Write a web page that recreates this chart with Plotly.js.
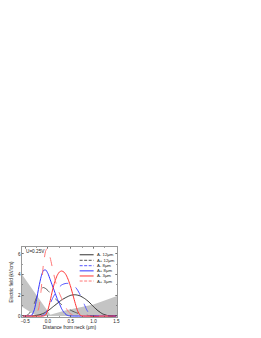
<!DOCTYPE html>
<html><head><meta charset="utf-8">
<script src="https://cdn.plot.ly/plotly-3.0.1.min.js"></script>
<style>html,body{margin:0;padding:0;background:#fff;}#c{width:261px;height:338px;}</style>
</head><body><div id="c"></div>
<script>
// series names (legend order)
const seriesNames = ["A- 12μm","A+ 12μm","A- 8μm","A+ 8μm","A- 3μm","A+ 3μm"];

// A- 12um (black solid)
const xA12m = [-0.55,-0.35,-0.3,-0.2,-0.1,0,0.1,0.2,0.3,0.4,0.5,0.6,0.7,0.8,0.9,1.0,1.1,1.2,1.3,1.4,1.5];
const yA12m = [0,0,0.03,0.1,0.25,0.5,0.85,1.2,1.55,1.8,2.0,2.05,1.95,1.7,1.35,0.9,0.5,0.2,0.05,0,0];
// A+ 12um (black dashed)
const xA12p = [-0.55,-0.5,-0.45,-0.4,-0.35,-0.3,-0.25,-0.2,-0.15,-0.1,-0.05,0,0.05,0.1,0.15,0.2,0.25,0.3,0.4,0.5,0.6,0.7,0.8,0.9,1.0,1.5];
const yA12p = [0,0,0.1,0.3,0.7,1.2,1.8,2.3,2.65,2.75,2.65,2.45,2.2,1.95,1.7,1.5,1.3,1.1,0.8,0.55,0.35,0.2,0.1,0.04,0,0];
// A- 8um (blue dashed)
const xA8m = [-0.55,-0.15,-0.1,-0.05,0,0.05,0.1,0.15,0.2,0.25,0.3,0.35,0.4,0.45,0.5,0.55,0.6,0.65,0.7,0.75,0.8,0.85,0.9,0.95,1.0,1.5];
const yA8m = [0,0,0.1,0.3,0.7,1.2,1.7,2.1,2.5,2.8,3.0,3.1,3.15,3.15,3.1,3.0,2.8,2.5,2.1,1.6,1.1,0.6,0.25,0.05,0,0];
// A+ 8um (blue solid)
const xA8p = [-0.55,-0.4,-0.35,-0.3,-0.25,-0.2,-0.15,-0.1,-0.05,0,0.05,0.1,0.15,0.2,0.25,0.3,0.35,0.4,0.45,0.5,1.5];
const yA8p = [0,0,0.1,0.6,1.6,2.8,3.8,4.4,4.45,4.1,3.5,2.9,2.3,1.7,1.2,0.7,0.35,0.12,0.03,0,0];
// A- 3um (red solid)
const xA3m = [-0.55,-0.1,-0.05,0,0.05,0.1,0.15,0.2,0.25,0.3,0.35,0.4,0.45,0.5,0.55,0.6,0.65,0.7,0.75,1.5];
const yA3m = [0,0,0.1,0.6,1.5,2.5,3.3,3.9,4.25,4.35,4.25,3.95,3.45,2.8,2.0,1.2,0.5,0.1,0,0];
// A+ 3um (red dashed)
const xA3p = [-0.55,-0.3,-0.25,-0.2,-0.15,-0.1,-0.05,-0.025,0,0.05,0.1,0.15,0.2,0.25,0.3,0.35,0.4,0.45,0.5,0.55,0.6,0.7,1.5];
const yA3p = [0,0,0.2,0.8,2.5,5.0,6.3,6.5,6.35,5.6,4.6,3.6,2.8,2.2,1.7,1.2,0.75,0.4,0.2,0.08,0.03,0,0];

// grey background profile
const xGreyL = [-0.57,0.07,-0.25,-0.57];
const yGreyL = [4.0,0,0,0.9];
const xGreyR = [-0.05,0.4,1.0,1.52,1.52];
const yGreyR = [0,0.55,1.1,1.95,0];

const xTicks = [-0.5,0,0.5,1.0,1.5];
const yTicks = [0,2,4,6];

const colors = ["#333333","#555555","#5555ff","#3333ff","#ff3333","#ff7777"];
const dashes = ["solid","dash","dash","solid","solid","dash"];
const xs = [xA12m,xA12p,xA8m,xA8p,xA3m,xA3p];
const ys = [yA12m,yA12p,yA8m,yA8p,yA3m,yA3p];

const traces = [
  {x:xGreyL,y:yGreyL,fill:'toself',fillcolor:'#c4c4c4',line:{width:0},mode:'lines',hoverinfo:'skip',showlegend:false},
  {x:xGreyR,y:yGreyR,fill:'toself',fillcolor:'#c4c4c4',line:{width:0},mode:'lines',hoverinfo:'skip',showlegend:false}
];
const order = [1,0,2,3,4,5];
order.forEach(i=>{
  traces.push({x:xs[i],y:ys[i],mode:'lines',name:seriesNames[i],line:{color:colors[i],dash:dashes[i],width:1,shape:'spline',smoothing:0.6},showlegend:false});
});

// hand-drawn legend (compact)
const shapes=[], annotations=[];
const rowY=[0.889,0.81,0.733,0.659,0.586,0.514];
seriesNames.forEach((n,i)=>{
  shapes.push({type:'line',xref:'paper',yref:'paper',x0:0.607,x1:0.754,y0:rowY[i],y1:rowY[i],line:{color:colors[i],width:1,dash:dashes[i]==='dash'?'3px,1.5px':'solid'}});
  annotations.push({xref:'paper',yref:'paper',x:0.77,y:rowY[i],text:n,showarrow:false,xanchor:'left',yanchor:'middle',font:{size:4.3,color:'#222'}});
});
annotations.push({xref:'paper',yref:'paper',x:0.02,y:0.93,text:'U=0.25V',showarrow:false,xanchor:'left',yanchor:'middle',font:{size:4.7,color:'#222'}});

const layout = {
  width:261,height:338,
  margin:{l:22,r:143.5,t:247.3,b:21.3},
  paper_bgcolor:'#fff',plot_bgcolor:'#fff',
  font:{family:'Liberation Sans, Arial, sans-serif',size:4.5,color:'#222'},
  showlegend:false,
  xaxis:{range:[-0.57,1.515],tickvals:xTicks,tickformat:'.1f',ticks:'inside',ticklen:2,tickwidth:0.5,tickcolor:'#444',
    showline:true,linecolor:'#555',linewidth:0.6,mirror:'allticks',showgrid:false,zeroline:false,
    tickfont:{size:4.6},title:{text:'Distance from neck (μm)',font:{size:4.9},standoff:2},
    minor:{dtick:0.25,ticks:'inside',ticklen:1,tickcolor:'#444'}},
  yaxis:{range:[-0.1,6.67],tickvals:yTicks,ticks:'inside',ticklen:2,tickwidth:0.5,tickcolor:'#444',
    showline:true,linecolor:'#555',linewidth:0.6,mirror:'allticks',showgrid:false,zeroline:false,
    tickfont:{size:4.6},title:{text:'Electric field (kV/cm)',font:{size:4.5},standoff:4},
    minor:{dtick:1,ticks:'inside',ticklen:1,tickcolor:'#444'}},
  shapes:shapes,annotations:annotations
};
Plotly.newPlot('c',traces,layout,{staticPlot:true,displayModeBar:false});
</script></body></html>
